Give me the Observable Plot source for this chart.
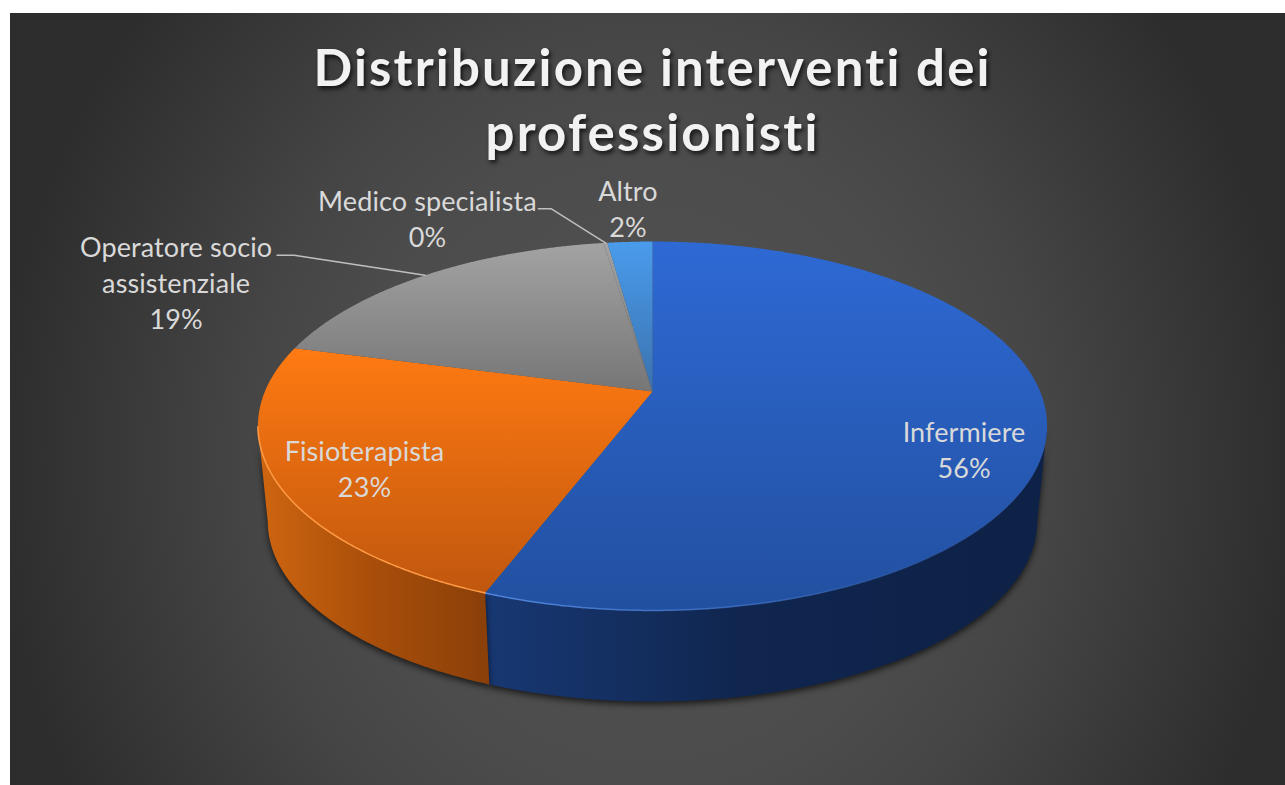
<!DOCTYPE html>
<html><head><meta charset="utf-8">
<script src="https://cdn.jsdelivr.net/npm/d3@7"></script>
<script src="https://cdn.jsdelivr.net/npm/@observablehq/plot@0.6"></script>
<style>html,body{margin:0;padding:0;background:#fff;overflow:hidden}svg{display:block}</style>
</head><body><div id="chart"></div>
<script>
const categories = ["Infermiere","Fisioterapista","Operatore socio\nassistenziale","Medico specialista","Altro"];
const shares = [55.8,23.3,18.5,0.2,2.2];
const topFills = ["url(#gBlue)","url(#gOrange)","url(#gGrey)","url(#gGrey)","url(#gSky)"];
const sideFills = ["url(#sBlue)","url(#sOrange)","#666","#666","#2c6aa8"];
const rimStrokes = ["url(#rBlue)","#ff9a45","none","none","none"];

// perspective view of the pie disc
const view = {cx:652, cy:391, a:387.6, b:178, k:0.187, depthScale:0.975, depthDrop:96.5};
const project = (angle, r = 1) => {
  const u = r*Math.sin(angle), v = r*Math.cos(angle), w = 1 + view.k*v;
  return [view.cx + view.a*u/w, view.cy - view.b*v/w];
};
const lower = ([x,y]) => [view.cx + view.depthScale*(x-view.cx), view.cy + view.depthScale*(y-view.cy) + view.depthDrop];
const arcs = d3.pie().sort(null)(shares);
const arcPts = (a0,a1) => {
  const n = Math.max(2, Math.ceil((a1-a0)/0.005)), out = [];
  for (let i=0;i<=n;i++) out.push(a0+(a1-a0)*i/n);
  return out;
};
const nearSide = a => Math.cos(a) < -view.k;   // the part of the rim that faces the viewer
const topPoly = arcs.map(s => [[view.cx,view.cy], ...arcPts(s.startAngle,s.endAngle).map(a=>project(a))]);
const rimPoly = arcs.map(s => arcPts(s.startAngle,s.endAngle).filter(nearSide).map(a=>project(a)));
const sidePoly = rimPoly.map(up => [...up, ...up.slice().reverse().map(lower)]);
const rimAnchor = arcs.map(s => project((s.startAngle+s.endAngle)/2));

// label placement relative to the rim anchor of each slice
const labelOffsets = [[-83,24],[89,-13],[-249,6],[-178,-25],[-2,-34]];
const leaderOffsets = [null,null,[[-148,-20],[-131,-20]],[[-67,-34],[-54,-34]],null];
const labels = categories.map((c,i)=>({
  text:`${c}\n${Math.round(shares[i])}%`,
  x:rimAnchor[i][0]+labelOffsets[i][0],
  y:rimAnchor[i][1]+labelOffsets[i][1]
}));
const leaders = leaderOffsets.flatMap((o,i)=> o ? [[...o.map(([dx,dy])=>[rimAnchor[i][0]+dx,rimAnchor[i][1]+dy]), rimAnchor[i]]] : []);

const grad = (defs,id,stops,x2=0,y2=1) => {
  const g = defs.append("linearGradient").attr("id",id).attr("x1",0).attr("y1",0).attr("x2",x2).attr("y2",y2);
  stops.forEach(([o,c,op])=>g.append("stop").attr("offset",o).attr("stop-color",c).attr("stop-opacity",op??1));
};
const defsMark = () => {
  const defs = d3.create("svg:defs");
  grad(defs,"gBlue",[[0,"#2e69d4"],[1,"#2250a0"]]);
  grad(defs,"gOrange",[[0,"#ff7a12"],[1,"#c0570e"]]);
  grad(defs,"gGrey",[[0,"#a3a3a3"],[1,"#767676"]]);
  grad(defs,"gSky",[[0,"#4a9bec"],[1,"#3a72ae"]]);
  grad(defs,"sBlue",[[0,"#183873"],[0.45,"#10264f"],[1,"#0e2146"]],1,0);
  grad(defs,"sOrange",[[0,"#cf6610"],[0.5,"#a84e0a"],[1,"#8a3f09"]],1,0);
  grad(defs,"rBlue",[[0,"#4f86dc"],[0.5,"#3f74cc",0.7],[1,"#2a5ab0",0]],1,0);
  return defs.node();
};
const poly = (pts,opts) => Plot.line(pts,{x:d=>d[0],y:d=>d[1],curve:"linear",...opts});
const spaced = s => (i,sc,v,d,c,next) => {const g = next(i,sc,v,d,c); g.style.letterSpacing = s; return g;};

const chart = Plot.plot({
  width:1285, height:785, margin:0,
  x:{domain:[0,1285],range:[0,1285],axis:null},
  y:{domain:[0,785],range:[0,785],axis:null},
  style:{background:"radial-gradient(ellipse 650px 720px at 50% 58%, #535353 0%, #4c4c4c 45%, #454545 62%, #2d2d2d 100%) 10px 13px / 1275px 772px no-repeat", overflow:"hidden"},
  marks:[
    defsMark,
    ...sidePoly.filter(p=>p.length).map((p,i)=>poly(p,{fill:sideFills[i],stroke:"none",imageFilter:"drop-shadow(0 3px 3px rgba(0,0,0,.65))"})),
    ...topPoly.map((p,i)=>poly(p,{fill:topFills[i],stroke:"none"})),
    ...rimPoly.map((p,i)=>poly(p,{stroke:rimStrokes[i],strokeWidth:1.5})),
    ...leaders.map(p=>poly(p,{stroke:"#bfbfbf",strokeWidth:1.5})),
    Plot.text(labels,{x:"x",y:"y",text:"text",fill:"#d9d9d9",fontSize:27,fontFamily:"Lato",lineHeight:1.33,lineAnchor:"middle",render:spaced("0.1px")}),
    Plot.text(["Distribuzione interventi dei\nprofessionisti"],{x:()=>652,y:()=>97,fill:"#f2f2f2",fontSize:51,fontWeight:700,fontFamily:"Lato",lineHeight:1.275,lineAnchor:"middle",imageFilter:"drop-shadow(2px 3px 2px rgba(0,0,0,.7))",render:spaced("2.15px")})
  ]
});
document.getElementById("chart").append(chart);
</script></body></html>
